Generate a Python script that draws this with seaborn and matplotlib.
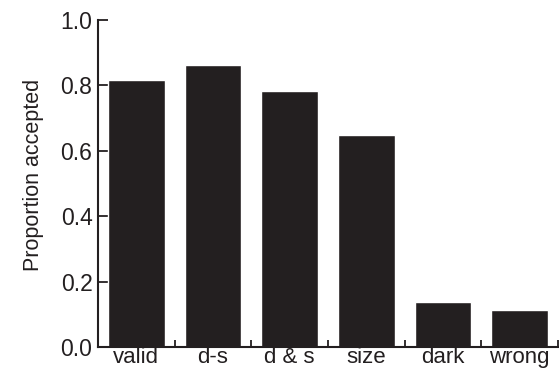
import matplotlib
matplotlib.use("Agg")
import matplotlib.pyplot as plt
import seaborn as sns
import pandas as pd
import numpy as np

# values
conditions = ['valid', 'd-s', 'd & s', 'size', 'dark', 'wrong']
proportion = [0.817, 0.862, 0.783, 0.648, 0.138, 0.113]
y_ticks = [0.0, 0.2, 0.4, 0.6, 0.8, 1.0]

df = pd.DataFrame({'condition': conditions, 'proportion': proportion})

sns.set_style('ticks')
plt.rcParams['font.family'] = ['Liberation Sans', 'DejaVu Sans']

fig = plt.figure(figsize=(5.59, 3.70), dpi=100)
ax = fig.add_axes([0.1753, 0.062, 0.8227, 0.884])

sns.barplot(data=df, x='condition', y='proportion', color='#231f20',
            saturation=1, width=0.74, ax=ax)

ax.set_xlim(-0.5, len(conditions) - 0.5)
ax.set_ylim(0, 1.0)
ax.set_yticks(y_ticks)
ax.set_yticklabels([f'{t:.1f}' for t in y_ticks])

# tick marks sit between the bars, labels under them
ax.set_xticks(np.arange(len(conditions)) + 0.5, minor=True)
ax.tick_params(axis='x', which='major', length=0, pad=0, labelsize=16, colors='#231f20')
ax.tick_params(axis='x', which='minor', direction='in', length=5, width=1.3, color='#231f20')
ax.tick_params(axis='y', direction='in', length=7, width=1.3, pad=4, labelsize=16.5, colors='#231f20')

ax.set_xlabel('')
ax.set_ylabel('Proportion accepted', fontsize=15.5, color='#231f20', labelpad=12)
ax.yaxis.label.set_y(0.525)

for side in ['top', 'right']:
    ax.spines[side].set_visible(False)
for side in ['left', 'bottom']:
    ax.spines[side].set_linewidth(1.5)
    ax.spines[side].set_color('#231f20')

fig.savefig('out.png', dpi=100)
